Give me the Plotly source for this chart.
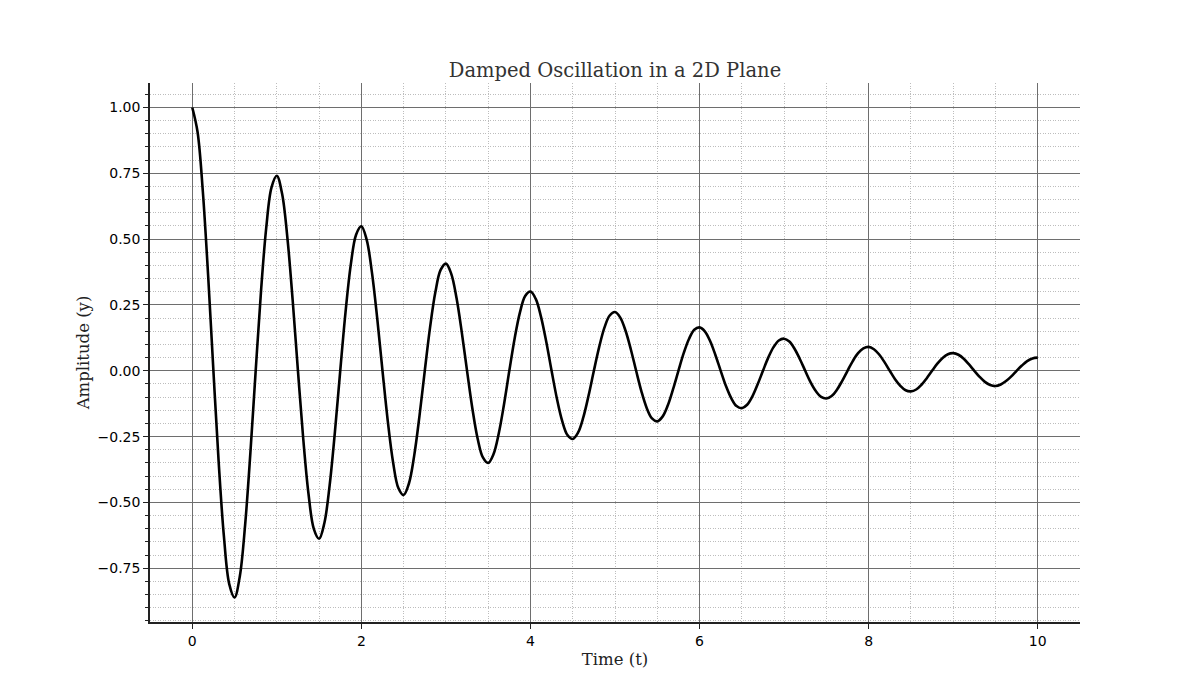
import plotly.graph_objects as go

time_t = [
    0.0, 0.0625, 0.125, 0.1875, 0.25, 0.3125, 0.375, 0.4375,
    0.5, 0.5625, 0.625, 0.6875, 0.75, 0.8125, 0.875, 0.9375,
    1.0, 1.0625, 1.125, 1.1875, 1.25, 1.3125, 1.375, 1.4375,
    1.5, 1.5625, 1.625, 1.6875, 1.75, 1.8125, 1.875, 1.9375,
    2.0, 2.0625, 2.125, 2.1875, 2.25, 2.3125, 2.375, 2.4375,
    2.5, 2.5625, 2.625, 2.6875, 2.75, 2.8125, 2.875, 2.9375,
    3.0, 3.0625, 3.125, 3.1875, 3.25, 3.3125, 3.375, 3.4375,
    3.5, 3.5625, 3.625, 3.6875, 3.75, 3.8125, 3.875, 3.9375,
    4.0, 4.0625, 4.125, 4.1875, 4.25, 4.3125, 4.375, 4.4375,
    4.5, 4.5625, 4.625, 4.6875, 4.75, 4.8125, 4.875, 4.9375,
    5.0, 5.0625, 5.125, 5.1875, 5.25, 5.3125, 5.375, 5.4375,
    5.5, 5.5625, 5.625, 5.6875, 5.75, 5.8125, 5.875, 5.9375,
    6.0, 6.0625, 6.125, 6.1875, 6.25, 6.3125, 6.375, 6.4375,
    6.5, 6.5625, 6.625, 6.6875, 6.75, 6.8125, 6.875, 6.9375,
    7.0, 7.0625, 7.125, 7.1875, 7.25, 7.3125, 7.375, 7.4375,
    7.5, 7.5625, 7.625, 7.6875, 7.75, 7.8125, 7.875, 7.9375,
    8.0, 8.0625, 8.125, 8.1875, 8.25, 8.3125, 8.375, 8.4375,
    8.5, 8.5625, 8.625, 8.6875, 8.75, 8.8125, 8.875, 8.9375,
    9.0, 9.0625, 9.125, 9.1875, 9.25, 9.3125, 9.375, 9.4375,
    9.5, 9.5625, 9.625, 9.6875, 9.75, 9.8125, 9.875, 9.9375,
    10.0,
]
amplitude_y = [
    1.000, 0.907, 0.681, 0.362, 0.0, -0.348, -0.632, -0.810,
    -0.861, -0.780, -0.586, -0.311, 0.0, 0.300, 0.544, 0.697,
    0.741, 0.672, 0.505, 0.268, 0.0, -0.258, -0.468, -0.600,
    -0.638, -0.578, -0.434, -0.231, 0.0, 0.222, 0.403, 0.517,
    0.549, 0.498, 0.374, 0.199, 0.0, -0.191, -0.347, -0.445,
    -0.472, -0.428, -0.322, -0.171, 0.0, 0.165, 0.298, 0.383,
    0.407, 0.369, 0.277, 0.147, 0.0, -0.142, -0.257, -0.329,
    -0.350, -0.317, -0.238, -0.127, 0.0, 0.122, 0.221, 0.284,
    0.301, 0.273, 0.205, 0.109, 0.0, -0.105, -0.190, -0.244,
    -0.259, -0.235, -0.177, -0.094, 0.0, 0.090, 0.164, 0.210,
    0.223, 0.202, 0.152, 0.081, 0.0, -0.078, -0.141, -0.181,
    -0.192, -0.174, -0.131, -0.069, 0.0, 0.067, 0.121, 0.156,
    0.165, 0.150, 0.113, 0.060, 0.0, -0.058, -0.104, -0.134,
    -0.142, -0.129, -0.097, -0.051, 0.0, 0.050, 0.090, 0.115,
    0.122, 0.111, 0.083, 0.044, 0.0, -0.043, -0.077, -0.099,
    -0.105, -0.096, -0.072, -0.038, 0.0, 0.037, 0.067, 0.085,
    0.091, 0.082, 0.062, 0.033, 0.0, -0.032, -0.057, -0.074,
    -0.078, -0.071, -0.053, -0.028, 0.0, 0.027, 0.049, 0.063,
    0.067, 0.061, 0.046, 0.024, 0.0, -0.023, -0.042, -0.054,
    -0.058, -0.052, -0.039, -0.021, 0.0, 0.020, 0.037, 0.047,
    0.050,
]

TITLE = "Damped Oscillation in a 2D Plane"
X_LABEL = "Time (t)"
Y_LABEL = "Amplitude (y)"

SERIF = "DejaVu Serif, serif"
SANS = "DejaVu Sans, sans-serif"
MAJOR_GRID = "#6e6e6e"
MINOR_GRID = "#bdbdbd"
SPINE = "#222222"

# the page puts the plot div 8px in from the top-left corner
W, H = 1184, 684

fig = go.Figure()
fig.add_trace(go.Scatter(
    x=time_t, y=amplitude_y, mode="lines",
    line=dict(color="black", width=2.6, shape="spline", smoothing=1.0, simplify=False),
    showlegend=False, hoverinfo="x+y",
))

axis_common = dict(
    showline=True, linecolor=SPINE, linewidth=1.5, mirror=False,
    ticks="outside", ticklen=5, tickwidth=1, tickcolor=SPINE,
    tickfont=dict(family=SANS, size=14, color="black"),
    showgrid=True, gridcolor=MAJOR_GRID, gridwidth=0.9,
    zeroline=False,
)

fig.update_layout(
    width=W, height=H,
    paper_bgcolor="white", plot_bgcolor="white",
    margin=dict(l=142, r=112, t=75, b=70),
    title=dict(text=TITLE, x=(615 - 8) / W, xanchor="center",
               y=1 - (70 - 8) / H, yanchor="middle",
               font=dict(family=SERIF, size=19.5, color="#333333")),
    xaxis=dict(
        **axis_common,
        range=[-0.5, 10.5], tick0=0, dtick=2,
        title=dict(text=X_LABEL, font=dict(family=SERIF, size=16.5, color="#222222"), standoff=6),
        minor=dict(dtick=0.5, tick0=0, showgrid=True, gridcolor=MINOR_GRID,
                   griddash="1px,1.5px", gridwidth=0.8, ticks=""),
    ),
    yaxis=dict(
        **axis_common,
        range=[-0.954, 1.093], tick0=0, dtick=0.25, tickformat=".2f",
        title=dict(text=Y_LABEL, font=dict(family=SERIF, size=16.5, color="#222222"), standoff=4),
        minor=dict(dtick=0.05, tick0=0, showgrid=True, gridcolor=MINOR_GRID,
                   griddash="1px,1.5px", gridwidth=0.8, ticks="outside", ticklen=3,
                   tickcolor=SPINE),
    ),
)

fig.write_html("out.html")
